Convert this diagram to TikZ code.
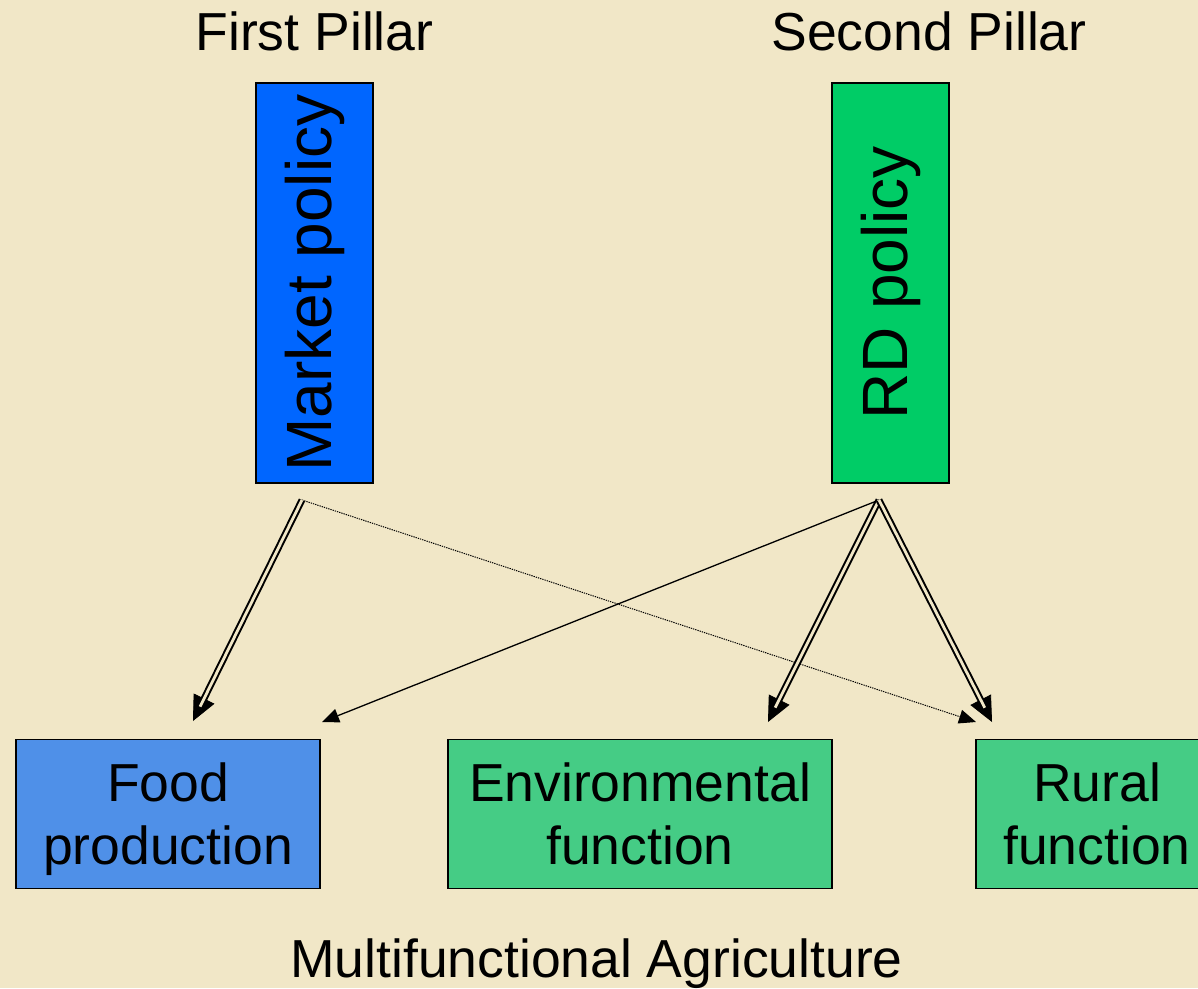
\documentclass[tikz,border=0pt]{standalone}
\usepackage{fontspec}
\setmainfont{Liberation Sans}
\usetikzlibrary{arrows.meta}
\definecolor{bg}{HTML}{F1E7C7}
\definecolor{mblue}{HTML}{0066FF}
\definecolor{mgreen}{HTML}{00CC66}
\definecolor{tblue}{HTML}{4F90E8}
\definecolor{tgreen}{HTML}{45CC85}
\newcommand{\topstrut}{\rule{0pt}{56pt}}
\begin{document}
\begin{tikzpicture}[x=1pt,y=-1pt,
  title/.style={font=\fontsize{53.5}{60}\selectfont, anchor=base, inner sep=0},
  pillar/.style={draw=black, line width=1.5pt, rotate=90, minimum width=400pt, minimum height=117pt, inner sep=0, font=\fontsize{64}{70}\selectfont},
  func/.style={draw=black, line width=1.5pt, minimum height=149pt, inner sep=0, align=center, font=\fontsize{53.5}{63}\selectfont},
  dbl/.style={double=bg, double distance=2.8pt, line width=2pt, shorten >=16pt},
  bigtip/.style={-{Triangle[length=25pt,width=23pt]}, line width=0.8pt},
  smalltip/.style={-{Triangle[length=17pt,width=14pt]}, line width=1.3pt}
]
\useasboundingbox[fill=bg] (0,0) rectangle (1198,988);
\node[title] (t1) at (314.5,50) {First Pillar};
\node[title] (t2) at (929,50) {Second Pillar};
\node[title] (t3) at (596.5,977) {Multifunctional Agriculture};
\node[pillar, fill=mblue] (mp) at (314.5,283) {Market policy};
\node[pillar, fill=mgreen] (rd) at (890.5,283) {RD policy};
\node[func, fill=tblue, minimum width=304pt] (food) at (168,814) {\topstrut Food\\production\strut};
\node[func, fill=tgreen, minimum width=384pt] (env) at (640,814) {\topstrut Environmental\\function\strut};
\node[func, fill=tgreen, minimum width=242pt] (rur) at (1097,814) {\topstrut Rural\\function\strut};
% connector points
\coordinate (mpo) at (302,500);
\coordinate (rdo) at (879,500);
\coordinate (foodA) at (193,721);
\coordinate (foodB) at (322,722);
\coordinate (envA) at (768,722);
\coordinate (rurA) at (992,722);
\coordinate (rurB) at (976,722);
% arrows
\draw[smalltip, densely dotted, line width=1pt] (mpo) -- (rurB);
\draw[smalltip] (rdo) -- (foodB);
\draw[bigtip] (mpo) -- (foodA);
\draw[dbl] (mpo) -- (foodA);
\draw[bigtip] (rdo) -- (envA);
\draw[dbl] (rdo) -- (envA);
\draw[bigtip] (rdo) -- (rurA);
\draw[dbl] (rdo) -- (rurA);
\end{tikzpicture}
\end{document}
